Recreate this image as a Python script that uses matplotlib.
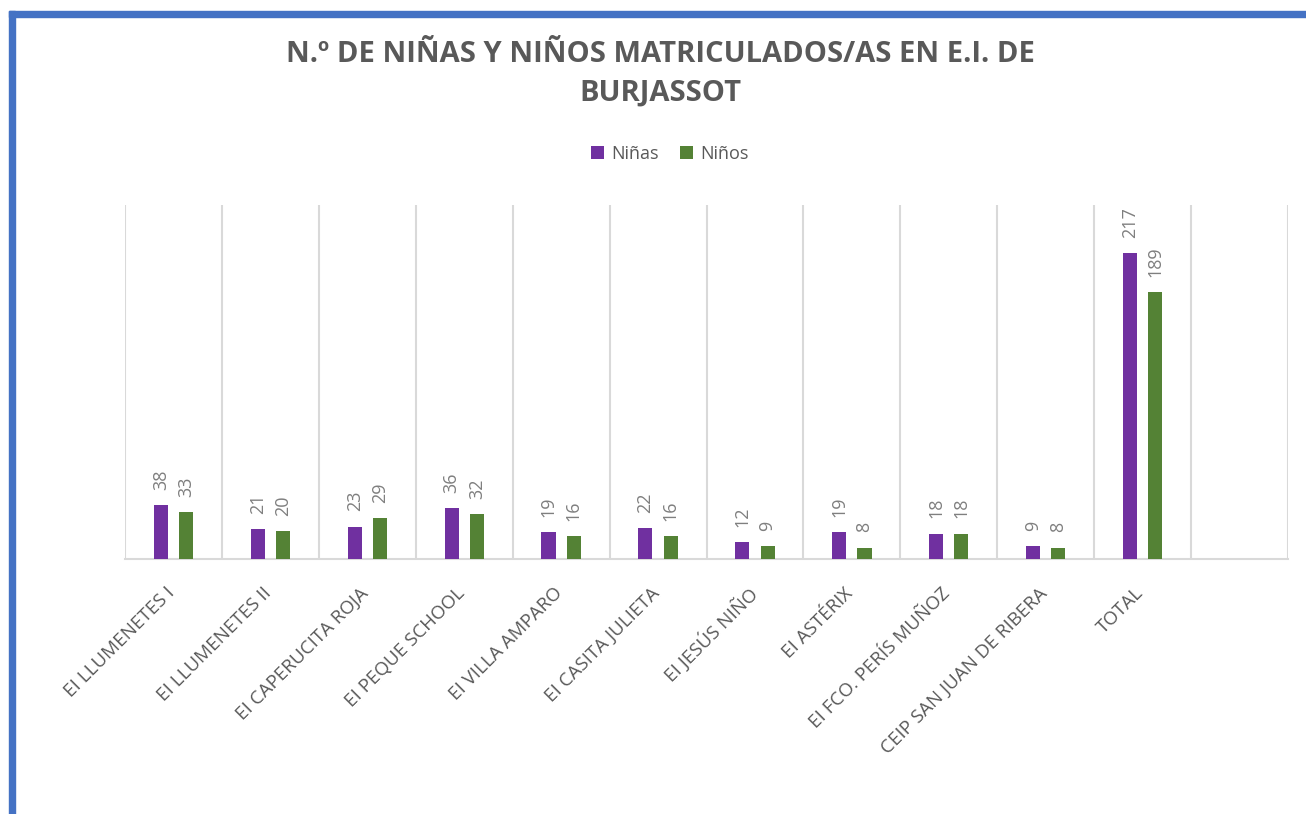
import matplotlib
matplotlib.use('Agg')
import matplotlib.pyplot as plt
from matplotlib.patches import Rectangle
from matplotlib.transforms import ScaledTranslation
import numpy as np

plt.rcParams['font.family'] = ['Open Sans', 'DejaVu Sans']

categories = ['EI LLUMENETES I', 'EI LLUMENETES II', 'EI CAPERUCITA ROJA',
              'EI PEQUE SCHOOL', 'EI VILLA AMPARO', 'EI CASITA JULIETA',
              'EI JESÚS NIÑO', 'EI ASTÉRIX', 'EI FCO. PERÍS MUÑOZ',
              'CEIP SAN JUAN DE RIBERA', 'TOTAL', '']
ninas = [38, 21, 23, 36, 19, 22, 12, 19, 18, 9, 217, None]
ninos = [33, 20, 29, 32, 16, 16, 9, 8, 18, 8, 189, None]

PURPLE = '#7030A0'
GREEN = '#548235'
BLUE = '#4472C4'
TEXT = '#595959'
LABEL = '#7F7F7F'
GRID = '#D9D9D9'

fig = plt.figure(figsize=(13.06, 8.14), dpi=100)
fig.patch.set_facecolor('white')
ax = fig.add_axes([125/1306, 1 - 559/814, (1288 - 125)/1306, (559 - 205)/814])

x = np.arange(len(categories))
w = 0.145
n_vals = [v if v is not None else 0 for v in ninas]
o_vals = [v if v is not None else 0 for v in ninos]
b1 = ax.bar(x - 0.13, n_vals, w, color=PURPLE, label='Niñas', zorder=3)
b2 = ax.bar(x + 0.13, o_vals, w, color=GREEN, label='Niños', zorder=3)

for bars, vals in [(b1, ninas), (b2, ninos)]:
    for rect, v in zip(bars, vals):
        if v is None:
            continue
        ax.annotate(str(v), (rect.get_x() + rect.get_width() / 2, rect.get_height()),
                    xytext=(0, 11), textcoords='offset points',
                    rotation=90, ha='center', va='bottom',
                    fontsize=13, color=LABEL)

ax.set_xlim(-0.5, len(categories) - 0.5)
ax.set_ylim(0, 251)
ax.set_yticks([])
for b in np.arange(-0.5, len(categories), 1.0):
    ax.axvline(b, color=GRID, linewidth=1.5, zorder=1)
for s in ['top', 'right', 'left']:
    ax.spines[s].set_visible(False)
ax.spines['bottom'].set_color(GRID)
ax.spines['bottom'].set_linewidth(1.5)

ax.set_xticks(x)
ax.set_xticklabels(categories, rotation=45, ha='right', rotation_mode='anchor',
                   fontsize=13.5, color=TEXT)
ax.tick_params(axis='x', length=0, pad=18)
shift = ScaledTranslation(-8/100, 0, fig.dpi_scale_trans)
for lab in ax.get_xticklabels():
    lab.set_transform(lab.get_transform() + shift)

fig.text(0.506, 1 - 55/814, 'N.º DE NIÑAS Y NIÑOS MATRICULADOS/AS EN E.I. DE',
         ha='center', va='center', fontsize=21, fontweight='bold', color=TEXT)
fig.text(0.506, 1 - 93/814, 'BURJASSOT',
         ha='center', va='center', fontsize=21, fontweight='bold', color=TEXT)

fig.legend(handles=[b1, b2], loc='center', bbox_to_anchor=(670/1306, 1 - 154/814),
           ncol=2, frameon=False, fontsize=13, labelcolor=TEXT,
           handlelength=0.7, handleheight=0.7, handletextpad=0.4, columnspacing=1.2)

# blue frame of the screenshot
fig.add_artist(Rectangle((9/1306, -0.01), 6/1306, 1 - 11/814 + 0.01,
                         transform=fig.transFigure, color=BLUE, zorder=10))
fig.add_artist(Rectangle((9/1306, 1 - 17/814), 1, 6/814,
                         transform=fig.transFigure, color=BLUE, zorder=10))

fig.savefig('out.png', dpi=100, facecolor='white')
